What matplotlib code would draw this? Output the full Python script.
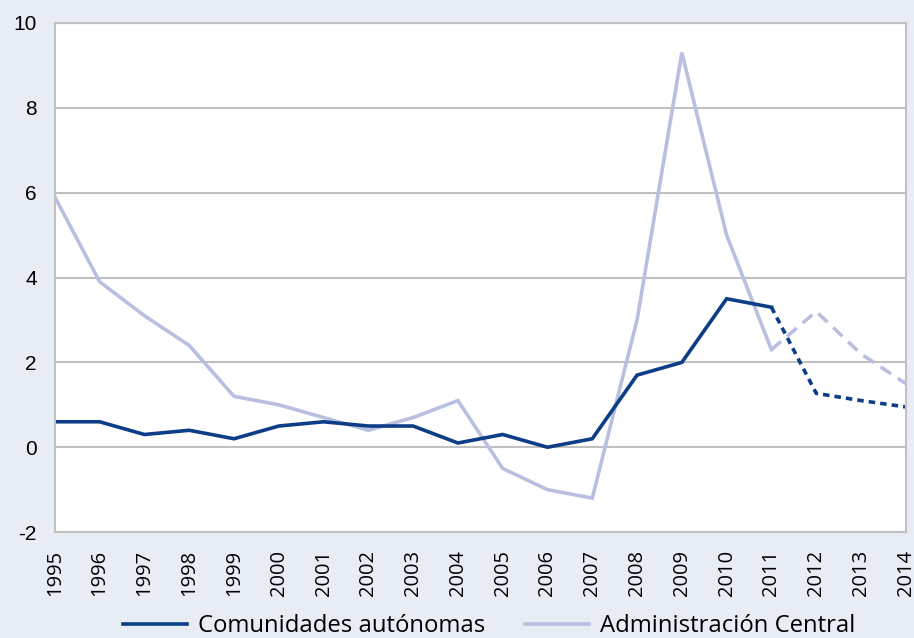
import matplotlib
matplotlib.use("Agg")
import matplotlib.pyplot as plt
from matplotlib.lines import Line2D

plt.rcParams["axes.unicode_minus"] = False

years = list(range(1995, 2015))
ccaa = [0.6, 0.6, 0.3, 0.4, 0.2, 0.5, 0.6, 0.5, 0.5, 0.1,
        0.3, 0.0, 0.2, 1.7, 2.0, 3.5, 3.3, 1.27, 1.1, 0.95]
central = [5.9, 3.9, 3.1, 2.4, 1.2, 1.0, 0.7, 0.4, 0.7, 1.1,
           -0.5, -1.0, -1.2, 3.0, 9.3, 5.0, 2.3, 3.2, 2.2, 1.5]
last_real = 2011

dark = "#0d3d86"
light = "#b9bfe0"
bg = "#e8edf5"

fig = plt.figure(figsize=(9.14, 6.38), dpi=100, facecolor=bg)
ax = fig.add_axes([0.060, 0.166, 0.931, 0.798])
ax.set_facecolor("white")

k = years.index(last_real) + 1
ax.plot(years[:k], central[:k], color=light, lw=2.6, solid_joinstyle="miter")
ax.plot(years[k - 1:], central[k - 1:], color=light, lw=2.6, dashes=(3.5, 2.2))
ax.plot(years[:k], ccaa[:k], color=dark, lw=2.6, solid_joinstyle="miter")
ax.plot(years[k - 1:], ccaa[k - 1:], color=dark, lw=2.6, dashes=(1.8, 1.4))

ax.set_xlim(1995, 2014)
ax.set_ylim(-2, 10)
ax.set_yticks(range(-2, 11, 2))
ax.set_xticks(years)
ax.set_xticklabels([str(y) for y in years], rotation=90, family="Open Sans", fontsize=14.5)
ax.tick_params(axis="y", labelsize=15, length=0, pad=13)
ax.tick_params(axis="x", length=0, pad=13)
for t in ax.get_yticklabels():
    t.set_family("Liberation Sans")
ax.grid(axis="y", color="#c0c0c0", lw=1.5)
ax.set_axisbelow(True)
for s in ax.spines.values():
    s.set_color("#c0c0c0")
    s.set_linewidth(1.5)

handles = [Line2D([], [], color=dark, lw=2.6), Line2D([], [], color=light, lw=2.6)]
fig.legend(handles, ["Comunidades autónomas", "Administración Central"],
           loc="lower center", bbox_to_anchor=(0.535, -0.034), ncol=2, frameon=False,
           prop={"family": "Open Sans", "size": 17.2}, handlelength=2.68,
           handletextpad=0.46, columnspacing=1.67)

fig.savefig("out.png", dpi=100, facecolor=bg)
